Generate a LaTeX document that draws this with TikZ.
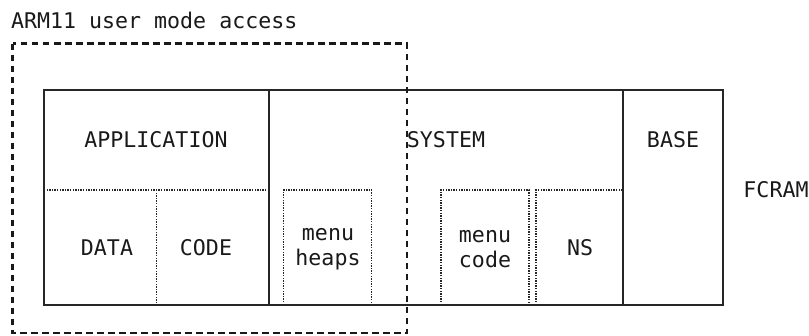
\documentclass[tikz,border=0pt]{standalone}
\usepackage{fontspec}
\setmainfont{DejaVu Sans Mono}
\begin{document}
\begin{tikzpicture}[x=1pt,y=-1pt,
  every node/.style={font=\fontsize{21.6}{25}\selectfont, text=black!90, inner sep=0pt, align=center},
  solidline/.style={draw=black!85, line width=2pt},
  dotline/.style={draw=black!85, line width=1.6pt, dash pattern=on 1.4pt off 1.2pt},
  dashline/.style={draw=black!90, line width=2.2pt, dash pattern=on 6.5pt off 4.5pt}]
\useasboundingbox (0,0) rectangle (809,335);

% title
\node[anchor=west] (title) at (11,20) {ARM11 user mode access};

% FCRAM frame and its partitions
\draw[solidline] (44,90) rectangle (723,305);
\draw[solidline] (269,90) -- (269,305);
\draw[solidline] (623,90) -- (623,305);

% application subdivisions
\draw[dotline] (44,190) -- (269,190);
\draw[dotline] (156.5,190) -- (156.5,305);

% system subregions
\draw[dotline] (283.5,305) -- (283.5,190) -- (371.5,190) -- (371.5,305);
\draw[dotline] (441,305) -- (441,190) -- (529,190) -- (529,305);
\draw[dotline] (536,305) -- (536,190) -- (623,190);

% labels
\node (app) at (156,140) {APPLICATION};
\node (sys) at (446,140) {SYSTEM};
\node (base) at (673,140) {BASE};
\node (data) at (107,248) {DATA};
\node (code) at (206,248) {CODE};
\node (mheaps) at (328,249) {menu\\heaps};
\node (mcode) at (485,249) {menu\\code};
\node (ns) at (580,248) {NS};
\node (fcram) at (776,190) {FCRAM};

% user mode access boundary
\draw[dashline] (12.5,43.5) rectangle (407,333);
\end{tikzpicture}
\end{document}
